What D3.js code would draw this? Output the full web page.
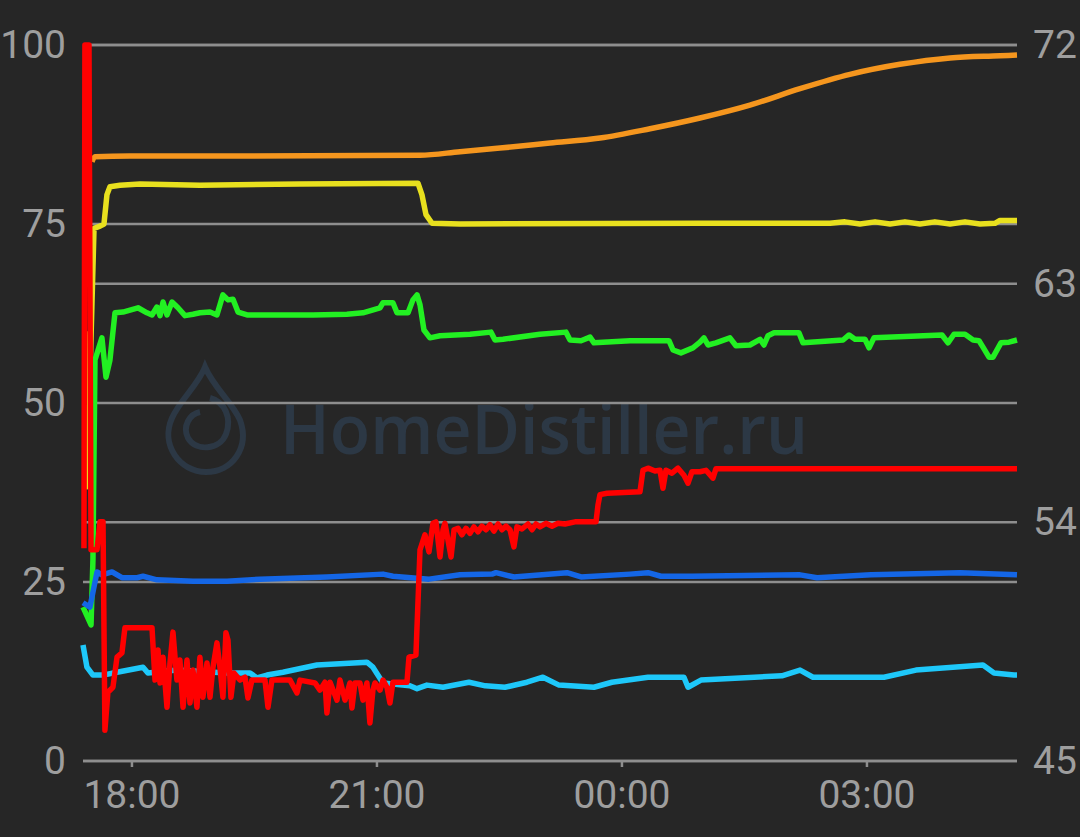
<!DOCTYPE html>
<html>
<head>
<meta charset="utf-8">
<script src="https://cdn.jsdelivr.net/npm/d3@7"></script>
<style>
  html, body { margin: 0; padding: 0; background: #262626; }
  svg { display: block; }
</style>
</head>
<body>
<svg id="chart" width="1080" height="837"></svg>
<script>
// ---- Data (time = minutes after 17:00 on the first day; value = left-axis units) ----
const xTickLabels = ["18:00", "21:00", "00:00", "03:00"];
const leftTicks = [0, 25, 50, 75, 100];
const rightTicks = [45, 54, 63, 72];
const watermarkText = "HomeDistiller.ru";

const orangeTime  = [31.0, 33.2, 58.9, 147.1, 272.0, 301.4, 330.8, 367.5, 404.2, 441.0, 477.7, 514.4, 551.2, 587.9, 624.6, 661.4, 698.1, 710.6];
const orangeValue = [83.7, 84.4, 84.5, 84.5, 84.6, 85.1, 85.6, 86.3, 87.0, 88.3, 89.8, 91.6, 93.9, 95.9, 97.3, 98.2, 98.5, 98.6];

const yellowTime  = [26.0, 27.3, 32.5, 36.9, 39.8, 42.0, 44.2, 51.6, 66.3, 110.3, 183.8, 270.5, 273.4, 276.4, 280.8, 301.4, 477.7, 573.2, 584.2, 595.2, 606.3, 617.3, 628.3, 639.3, 650.3, 661.4, 672.4, 683.4, 694.4, 698.1, 710.6];
const yellowValue = [60.0, 38.3, 74.4, 74.7, 75.0, 79.1, 80.2, 80.4, 80.6, 80.4, 80.6, 80.7, 79.1, 76.3, 75.1, 75.0, 75.1, 75.1, 75.3, 75.0, 75.3, 75.0, 75.3, 75.0, 75.3, 75.0, 75.3, 75.0, 75.1, 75.5, 75.5];

const greenTime  = [24.4, 30.3, 31.7, 33.2, 38.3, 41.3, 44.2, 47.9, 53.8, 64.8, 71.4, 75.1, 78.7, 81.0, 83.2, 86.1, 89.8, 94.2, 99.3, 105.2, 110.3, 117.7, 122.8, 127.2, 130.9, 134.6, 138.3, 144.9, 156.6, 169.1, 193.4, 218.3, 230.1, 242.6, 244.8, 252.1, 255.1, 263.2, 266.8, 269.8, 272.0, 274.9, 279.3, 286.7, 308.7, 324.1, 327.1, 333.0, 360.1, 379.2, 382.2, 390.3, 396.9, 399.8, 426.3, 454.9, 457.9, 463.7, 472.5, 477.7, 480.6, 483.6, 489.4, 499.7, 504.1, 514.4, 521.8, 524.7, 527.7, 532.1, 550.4, 553.4, 582.8, 587.2, 591.6, 598.9, 601.9, 605.5, 655.5, 659.9, 664.3, 672.4, 678.3, 682.7, 685.6, 690.0, 693.0, 698.8, 704.7, 710.6];
const greenValue = [21.5, 19.0, 28.1, 56.0, 59.1, 53.6, 56.0, 62.6, 62.7, 63.3, 62.6, 62.3, 63.4, 62.2, 64.1, 62.3, 64.1, 63.3, 62.2, 62.4, 62.6, 62.7, 62.3, 65.1, 64.4, 64.5, 62.7, 62.3, 62.3, 62.3, 62.3, 62.4, 62.6, 63.3, 64.0, 64.0, 62.6, 62.6, 64.4, 65.1, 63.7, 60.2, 59.1, 59.4, 59.6, 59.9, 58.8, 58.9, 59.6, 59.9, 58.8, 58.7, 59.2, 58.4, 58.7, 58.7, 57.4, 57.0, 57.7, 58.5, 59.1, 58.1, 58.4, 59.1, 58.0, 58.1, 58.9, 58.1, 59.4, 59.8, 59.8, 58.4, 58.8, 59.5, 58.9, 58.9, 57.7, 59.1, 59.5, 58.4, 59.6, 59.6, 58.8, 58.7, 57.8, 56.4, 56.4, 58.4, 58.5, 58.8];

const cyanTime  = [24.4, 27.3, 31.7, 39.1, 49.4, 68.5, 72.1, 93.4, 130.2, 147.1, 152.2, 159.6, 171.3, 196.3, 233.0, 237.4, 244.8, 264.6, 269.8, 277.1, 288.9, 308.0, 320.0, 334.4, 350.6, 362.3, 374.1, 399.8, 413.0, 439.5, 465.9, 468.9, 478.4, 537.9, 551.2, 560.7, 612.9, 636.4, 685.6, 693.7, 708.4, 710.6];
const cyanValue = [16.2, 13.1, 12.0, 12.0, 12.4, 13.1, 12.3, 12.7, 12.3, 12.3, 11.6, 12.0, 12.4, 13.4, 13.8, 13.1, 10.9, 10.5, 10.1, 10.6, 10.3, 11.0, 10.5, 10.3, 11.0, 11.7, 10.6, 10.3, 11.0, 11.7, 11.7, 10.3, 11.3, 11.9, 12.7, 11.7, 11.7, 12.7, 13.4, 12.3, 12.0, 12.0];

const blueTime  = [24.4, 29.5, 34.7, 38.3, 45.7, 53.0, 64.1, 68.5, 78.7, 105.2, 130.2, 154.4, 203.6, 244.8, 252.1, 278.6, 301.4, 324.9, 327.8, 341.0, 380.0, 390.3, 426.3, 439.5, 449.0, 471.8, 551.2, 563.7, 603.3, 668.7, 710.6];
const blueValue = [22.1, 21.5, 26.4, 26.0, 26.4, 25.6, 25.6, 25.8, 25.3, 25.1, 25.1, 25.4, 25.7, 26.1, 25.8, 25.4, 26.0, 26.1, 26.3, 25.7, 26.3, 25.7, 26.1, 26.3, 25.8, 25.8, 26.0, 25.6, 26.0, 26.3, 26.0];

const redTime  = [25.1, 25.8, 28.8, 30.3, 34.7, 36.9, 39.1, 40.5, 42.7, 46.4, 49.4, 53.0, 55.2, 73.6, 75.1, 77.3, 79.5, 81.0, 83.2, 86.1, 88.3, 90.5, 93.4, 95.6, 97.9, 100.8, 103.0, 105.2, 108.1, 110.3, 112.5, 115.5, 117.7, 119.9, 122.8, 125.0, 127.2, 129.4, 130.9, 133.1, 135.3, 139.7, 143.4, 145.6, 148.5, 158.1, 160.3, 163.2, 176.5, 181.6, 183.8, 194.8, 198.5, 202.2, 203.6, 205.9, 211.0, 213.2, 216.9, 220.5, 222.0, 224.2, 227.9, 230.1, 233.0, 235.2, 237.4, 238.9, 242.6, 244.8, 247.7, 249.9, 252.1, 262.4, 263.9, 269.0, 272.0, 275.6, 278.6, 281.5, 283.7, 286.7, 288.9, 290.3, 294.8, 297.0, 299.9, 302.8, 305.8, 308.7, 311.6, 314.6, 317.5, 320.5, 323.4, 326.3, 329.3, 332.2, 335.2, 338.1, 341.0, 343.2, 346.9, 351.3, 354.3, 357.2, 360.1, 364.5, 369.0, 373.4, 378.5, 385.9, 401.3, 402.8, 404.2, 409.4, 433.6, 435.8, 439.5, 444.6, 448.3, 450.5, 452.7, 457.1, 461.5, 465.9, 468.9, 471.8, 477.7, 482.1, 487.2, 489.4, 710.6];
const redValue = [29.7, 100, 100, 29.5, 29.5, 33.4, 33.4, 4.3, 9.6, 10.3, 14.5, 15.1, 18.6, 18.6, 18.6, 11.3, 15.5, 10.9, 14.5, 7.5, 13.7, 18.0, 11.3, 14.1, 7.5, 14.1, 8.1, 12.7, 7.5, 14.5, 8.9, 13.7, 8.9, 13.1, 16.5, 13.1, 8.9, 17.9, 16.9, 8.9, 12.3, 11.3, 11.7, 8.8, 11.3, 11.3, 7.5, 11.3, 11.3, 9.5, 11.3, 10.9, 9.9, 11.0, 6.7, 11.0, 8.5, 11.3, 8.5, 10.9, 7.4, 10.9, 10.9, 8.5, 10.9, 5.3, 9.9, 10.9, 9.9, 11.3, 10.3, 8.1, 11.0, 11.0, 14.5, 14.8, 29.5, 31.6, 29.2, 33.2, 33.4, 28.5, 32.3, 33.2, 28.5, 32.3, 32.5, 31.6, 32.5, 31.8, 32.7, 32.0, 32.8, 32.3, 33.0, 32.1, 33.1, 32.3, 32.8, 32.3, 29.9, 32.7, 32.4, 33.1, 32.3, 33.1, 32.7, 33.2, 32.8, 33.2, 33.1, 33.4, 33.4, 35.8, 37.2, 37.4, 37.6, 40.6, 40.9, 40.5, 40.6, 38.1, 40.6, 40.2, 40.9, 39.9, 38.8, 40.4, 40.4, 40.6, 39.5, 40.8, 40.8];

const seriesList = [
  { name: "orange", time: orangeTime, value: orangeValue, color: "#f5961e", curve: d3.curveMonotoneX },
  { name: "yellow", time: yellowTime, value: yellowValue, color: "#e8e01e", curve: d3.curveLinear },
  { name: "green",  time: greenTime,  value: greenValue,  color: "#22f022", curve: d3.curveLinear },
  { name: "cyan",   time: cyanTime,   value: cyanValue,   color: "#1ec8fa", curve: d3.curveLinear },
  { name: "blue",   time: blueTime,   value: blueValue,   color: "#1466e6", curve: d3.curveLinear },
  { name: "red",    time: redTime,    value: redValue,    color: "#ff0000", curve: d3.curveLinear }
];

// ---- Layout ----
const W = 1080, H = 837;
const L = 83, R = 1017, T = 45, B = 761;
const START = new Date(2020, 0, 1, 17, 0, 0);
const toDate = m => new Date(START.getTime() + m * 60000);

const allTimes = seriesList.flatMap(s => s.time);
const x = d3.scaleTime().domain([toDate(24.4), toDate(d3.max(allTimes))]).range([L, R]);
const yL = d3.scaleLinear().domain([0, 100]).range([B, T]);
const yR = d3.scaleLinear().domain([45, 72]).range([B, T]);

// tick dates from labels (roll over midnight)
let dayOffset = 0, prevH = -1;
const xTickDates = xTickLabels.map(lbl => {
  const [hh, mm] = lbl.split(":").map(Number);
  if (hh < prevH) dayOffset += 1;
  prevH = hh;
  return new Date(2020, 0, 1 + dayOffset, hh, mm, 0);
});

const svg = d3.select("#chart");
svg.append("rect").attr("width", W).attr("height", H).attr("fill", "#262626");

// ---- Watermark ----
const wm = svg.append("g").attr("class", "watermark");
wm.append("path")
  .attr("d", "M205,367 C198,385 180,400 172,418 C160,445 180,472 206,472 C232,472 250,448 240,420 C232,402 214,388 205,367 Z")
  .attr("fill", "none").attr("stroke", "#2c3845").attr("stroke-width", 6);
wm.append("path")
  .attr("d", "M210,398 C225,402 232,418 226,434 C220,450 196,452 188,438 C182,426 190,414 200,412")
  .attr("fill", "none").attr("stroke", "#2c3845").attr("stroke-width", 6);
wm.append("text")
  .attr("x", 280).attr("y", 454)
  .attr("font-family", "'Open Sans', 'Noto Sans', sans-serif")
  .attr("font-size", 68)
  .attr("font-weight", 600)
  .attr("textLength", 528).attr("lengthAdjust", "spacingAndGlyphs")
  .attr("fill", "#2c3845")
  .text(watermarkText);

// ---- Gridlines ----
const grid = svg.append("g").attr("class", "grid");
grid.selectAll("line.gl").data(leftTicks).join("line")
  .attr("class", "gl")
  .attr("x1", L).attr("x2", R)
  .attr("y1", d => yL(d)).attr("y2", d => yL(d))
  .attr("stroke", "#8e8e8e").attr("stroke-width", 2.5);
grid.selectAll("line.gr").data(rightTicks).join("line")
  .attr("class", "gr")
  .attr("x1", L).attr("x2", R)
  .attr("y1", d => yR(d)).attr("y2", d => yR(d))
  .attr("stroke", "#8e8e8e").attr("stroke-width", 2.5);

// ---- Axes ----
const fontFam = "Roboto, 'Noto Sans', sans-serif";
const axisColor = "#9e9e9e";

const gLeft = svg.append("g").attr("transform", `translate(${L},0)`)
  .call(d3.axisLeft(yL).tickValues(leftTicks).tickSize(0).tickPadding(17).tickFormat(d3.format("d")));
const gRight = svg.append("g").attr("transform", `translate(${R},0)`)
  .call(d3.axisRight(yR).tickValues(rightTicks).tickSize(0).tickPadding(16).tickFormat(d3.format("d")));
const gBottom = svg.append("g").attr("transform", `translate(0,${B})`)
  .call(d3.axisBottom(x).tickValues(xTickDates).tickSize(6).tickPadding(13).tickFormat(d3.timeFormat("%H:%M")));

[gLeft, gRight, gBottom].forEach(g => {
  g.select(".domain").remove();
  g.selectAll("text").attr("fill", axisColor).attr("font-family", fontFam).attr("font-size", 39);
  g.selectAll(".tick line").attr("stroke", "#8e8e8e").attr("stroke-width", 2.5);
});

// ---- Lines ----
const linesG = svg.append("g").attr("class", "lines");
seriesList.forEach(s => {
  const pts = s.time.map((t, i) => ({ t: toDate(t), v: s.value[i] }));
  const line = d3.line().x(d => x(d.t)).y(d => yL(d.v)).curve(s.curve);
  linesG.append("path")
    .datum(pts)
    .attr("d", line)
    .attr("fill", "none")
    .attr("stroke", s.color)
    .attr("stroke-width", 5.5)
    .attr("stroke-linejoin", "round")
    .attr("stroke-linecap", "butt");
});
</script>
</body>
</html>
